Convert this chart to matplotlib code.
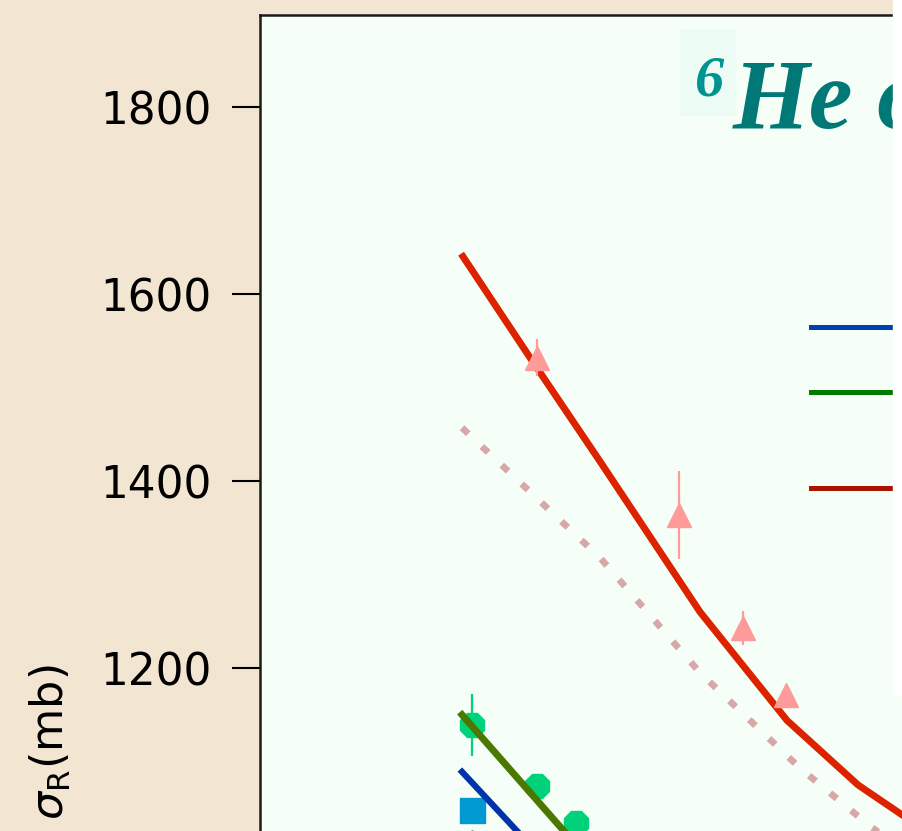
import matplotlib
matplotlib.use("Agg")
import matplotlib.pyplot as plt
from matplotlib.patches import Rectangle

# ---- data -------------------------------------------------------------
# calculated reaction cross sections (mb) vs. energy
calc_x = [20.3, 27.0, 34.0, 44.0, 52.7, 59.8, 64.2, 70.0]
calc_y = [1640, 1532, 1421, 1260, 1144, 1075, 1043, 1002]

calc2_x = [20.2, 34.0, 44.0, 54.0, 61.0, 67.0]
calc2_y = [1457, 1318, 1195, 1093, 1031, 984]

green_x = [20.2, 30.2, 40.0]
green_y = [1150, 1028, 908]

blue_x = [20.2, 25.5, 30.0]
blue_y = [1089, 1028, 977]

# measured values
tri_x = [27.7, 41.9, 48.3, 52.6]
tri_y = [1532, 1364, 1243, 1171]
tri_err = [20, 47, 18, 6]

circ_x = [21.2, 27.7, 31.6]
circ_y = [1139, 1074, 1034]
circ_err = [33, 0, 0]

sq_x = [21.2]
sq_y = [1048]

grey_x = [21.2]
grey_y = [1008]

yticks = [1000, 1200, 1400, 1600, 1800]

# ---- figure -----------------------------------------------------------
W, H = 902, 831
fig = plt.figure(figsize=(W / 100, H / 100), dpi=100, facecolor="#f2e6d2")

# axes box in pixels (extends past the lower and right edges)
left_px, top_px, right_px, bottom_px = 260, 15, 1260, 1031
ax = fig.add_axes([left_px / W, 1 - bottom_px / H,
                   (right_px - left_px) / W, (bottom_px - top_px) / H])
ax.set_facecolor("#f5fff7")
ax.set_xlim(0, 100)
ax.set_ylim(811.8, 1898.4)

for s in ax.spines.values():
    s.set_linewidth(1.8)
    s.set_color("#1a1a1a")

ax.set_yticks(yticks)
ax.set_yticklabels([str(v) for v in yticks])
ax.tick_params(axis="y", direction="out", length=20, width=1.5,
               labelsize=31.5, pad=15, colors="#000000")
ax.tick_params(axis="x", bottom=False, labelbottom=False)

# curves
ax.plot(calc2_x, calc2_y, color="#d8a8a8", lw=4.8,
        linestyle=(0, (1.3, 2.8)), dash_capstyle="butt", zorder=2)
ax.plot(calc_x, calc_y, color="#dd2200", lw=5, solid_joinstyle="miter", zorder=3)
ax.plot(green_x, green_y, color="#4a7800", lw=5, zorder=3)
ax.plot(blue_x, blue_y, color="#0033aa", lw=4.5, zorder=3)

# data points
ax.errorbar(tri_x, tri_y, yerr=tri_err, fmt="^", ms=17, color="#ff9a9a",
            ecolor="#ff9a9a", elinewidth=1.6, capsize=0, zorder=4)
ax.errorbar(circ_x, circ_y, yerr=circ_err, fmt="8", ms=19, color="#00d27c",
            ecolor="#00d27c", elinewidth=1.6, capsize=0, zorder=2.5)
ax.plot(sq_x, sq_y, "s", ms=18, color="#0099d2", zorder=2.5)
ax.plot(grey_x, grey_y, "D", ms=18, color="#8a9a90", zorder=2.4)

# legend keys
key_colors = ["#0040b0", "#007a00", "#aa1500"]
key_y_px = [327, 392, 488]
for c, ypx in zip(key_colors, key_y_px):
    yf = 1 - ypx / H
    fig.add_artist(plt.Line2D([811 / W, 900 / W], [yf, yf], color=c, lw=3.6,
                              transform=fig.transFigure, zorder=5))

# title
fig.add_artist(Rectangle((680 / W, 1 - 115 / H), 55 / W, 85 / H,
                         transform=fig.transFigure, color="#edfbf5", zorder=2))
fig.text(695 / W, 1 - 95 / H, "6", fontsize=42, family="Liberation Serif",
         weight="bold", style="italic", color="#009490", va="baseline",
         zorder=6)
fig.text(733 / W, 1 - 128 / H, "He on", fontsize=71, family="Liberation Serif",
         weight="bold", style="italic", color="#007876", va="baseline",
         zorder=6)

# y label
fig.text(50 / W, 1 - 665 / H, r"$\sigma_{\rm R}$(mb)", rotation=90,
         ha="center", va="top", fontsize=32, color="#000000")

# white strip along the right edge
fig.add_artist(Rectangle((893 / W, 1 - 695 / H), 20 / W, 695 / H,
                         transform=fig.transFigure, color="white", zorder=10))

fig.savefig("out.png", dpi=100, facecolor=fig.get_facecolor())
